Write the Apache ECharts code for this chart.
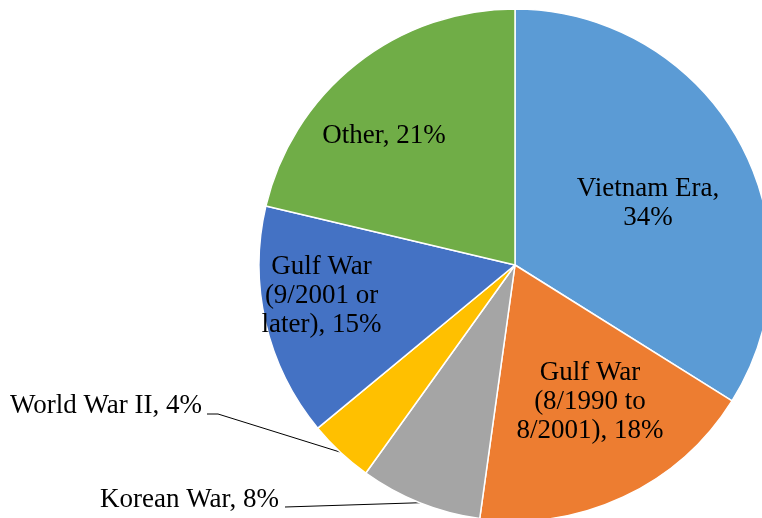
<!DOCTYPE html>
<html>
<head>
<meta charset="utf-8">
<script src="https://cdn.jsdelivr.net/npm/echarts@6.0.0/dist/echarts.min.js"></script>
<style>
html,body{margin:0;padding:0;background:#fff;}
#chart{width:762px;height:518px;}
</style>
</head>
<body>
<div id="chart"></div>
<script>
const categories = ["Vietnam Era", "Gulf War (8/1990 to 8/2001)", "Korean War", "World War II", "Gulf War (9/2001 or later)", "Other"];
// shares in percent (labels show them rounded)
const values = [33.9, 18.3, 7.7, 4.1, 14.7, 21.3];
const wrappedNames = ["Vietnam Era,\n", "Gulf War\n(8/1990 to\n8/2001), ", "Korean War, ", "World War II, ", "Gulf War\n(9/2001 or\nlater), ", "Other, "];
const colors = ["#5B9BD5", "#ED7D31", "#A5A5A5", "#FFC000", "#4472C4", "#70AD47"];
const outsideItems = ["Korean War", "World War II"];

// label placement (pixels)
const labelPlacement = [
  {x: 648, y: 203, align: 'center'},
  {x: 590, y: 402, align: 'center'},
  {x: 279, y: 500, align: 'right', elbow: [[285, 507], [285, 507]]},
  {x: 202, y: 406, align: 'right', elbow: [[218, 414], [207, 414]]},
  {x: 321.5, y: 296, align: 'center'},
  {x: 384, y: 135.5, align: 'center'}
];

const FONT = "'Liberation Serif', 'Times New Roman', serif";
const labelBase = {
  show: true,
  color: '#000000',
  fontFamily: FONT,
  fontSize: 27,
  lineHeight: 29,
  fontWeight: 'normal',
  textBorderWidth: 0,
  textBorderColor: 'transparent'
};

const data = categories.map((c, i) => {
  const outside = outsideItems.indexOf(c) >= 0;
  return {
    name: c,
    value: values[i],
    itemStyle: {color: colors[i]},
    label: Object.assign({}, labelBase, {position: outside ? 'outside' : 'inside'}),
    labelLine: {show: outside}
  };
});

const chart = echarts.init(document.getElementById('chart'), null, {renderer: 'canvas'});
chart.setOption({
  animation: false,
  backgroundColor: '#ffffff',
  textStyle: {fontFamily: FONT},
  series: [{
    type: 'pie',
    center: [515, 265],
    radius: 256,
    startAngle: 90,
    clockwise: true,
    avoidLabelOverlap: false,
    itemStyle: {borderColor: '#ffffff', borderWidth: 1.5},
    label: Object.assign({}, labelBase, {
      formatter: p => wrappedNames[p.dataIndex] + Math.round(p.value) + '%'
    }),
    labelLine: {
      lineStyle: {color: '#000000', width: 1},
      length: 20, length2: 10, smooth: false
    },
    labelLayout: function (params) {
      const pl = labelPlacement[params.dataIndex];
      const res = {x: pl.x, y: pl.y, align: pl.align, verticalAlign: 'middle'};
      if (pl.elbow && params.labelLinePoints) {
        res.labelLinePoints = [params.labelLinePoints[0], pl.elbow[0], pl.elbow[1]];
      }
      return res;
    },
    emphasis: {disabled: true},
    data: data
  }]
});
</script>
</body>
</html>
